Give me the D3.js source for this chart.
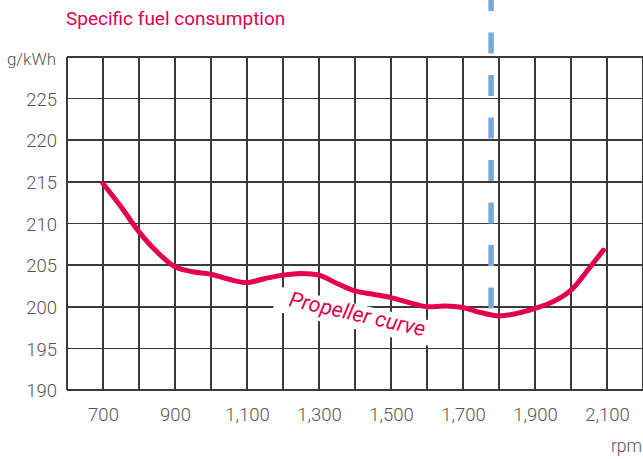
<!DOCTYPE html>
<html>
<head>
<meta charset="utf-8">
<script src="https://cdn.jsdelivr.net/npm/d3@7"></script>
<style>
  html, body { margin: 0; padding: 0; background: #fff; }
  svg { display: block; }
</style>
</head>
<body>
<svg id="chart" width="643" height="459"></svg>
<script>
// ---- data ----
const title = "Specific fuel consumption";
const yUnit = "g/kWh";
const xUnit = "rpm";
const curveLabel = "Propeller curve";

const rpmGrid = [600,700,800,900,1000,1100,1200,1300,1400,1500,1600,1700,1800,1900,2000,2100,2200];
const rpmTickLabels = [700,900,1100,1300,1500,1700,1900,2100];
const sfcGrid = [190,195,200,205,210,215,220,225,230];
const sfcTickLabels = [190,195,200,205,210,215,220,225];

const rpm = [700,750,800,850,900,950,1000,1050,1100,1150,1200,1250,1300,1350,1400,1450,1500,1550,1600,1650,1700,1750,1800,1850,1900,1950,2000,2050,2090];
const sfc = [214.8,212.0,209.0,206.6,204.8,204.2,203.9,203.3,202.9,203.4,203.8,204.0,203.8,202.8,201.9,201.5,201.1,200.5,200.0,200.1,199.9,199.3,198.9,199.2,199.8,200.6,202.0,204.6,206.8];

const mcrRpm = 1778;      // dashed marker
const mcrSfcEnd = 199.8;  // dashed marker lower end

// ---- layout ----
const svg = d3.select("#chart");
const x = d3.scaleLinear().domain([600, 2200]).range([67, 643]);
const y = d3.scaleLinear().domain([190, 230]).range([390, 57]);

const red = "#e3004f";
const gridCol = "#3a3a3a";
const txtCol = "#555";
const fontTick = "Roboto, 'Liberation Sans', sans-serif";

// title
svg.append("text")
  .attr("x", 66).attr("y", 25)
  .attr("fill", red)
  .attr("font-family", fontTick)
  .attr("font-size", 19)
  .text(title);

// grid
const grid = svg.append("g").attr("stroke", gridCol).attr("stroke-width", 1.6).attr("shape-rendering", "crispEdges");
grid.selectAll("line.v").data(rpmGrid).join("line")
  .attr("class", "v")
  .attr("x1", d => x(d)).attr("x2", d => x(d))
  .attr("y1", y(230)).attr("y2", y(190));
grid.selectAll("line.h").data(sfcGrid).join("line")
  .attr("class", "h")
  .attr("x1", x(600)).attr("x2", x(2200))
  .attr("y1", d => y(d)).attr("y2", d => y(d));

// y axis labels
const yAxis = d3.axisLeft(y).tickValues(sfcTickLabels).tickSize(0).tickPadding(0);
const gy = svg.append("g").attr("transform", "translate(57,0)").call(yAxis);
gy.select(".domain").remove();
gy.selectAll("text")
  .attr("fill", txtCol)
  .attr("font-family", fontTick)
  .attr("font-weight", 300)
  .attr("font-size", 18.5)
  .attr("dy", "0.36em");

// x axis labels
const xAxis = d3.axisBottom(x).tickValues(rpmTickLabels).tickSize(0).tickPadding(0)
  .tickFormat(d3.format(","));
const gx = svg.append("g").attr("transform", "translate(0,408)").call(xAxis);
gx.select(".domain").remove();
gx.selectAll("text")
  .attr("fill", txtCol)
  .attr("font-family", fontTick)
  .attr("font-weight", 300)
  .attr("font-size", 18.5)
  .attr("dy", "0.71em");

// unit labels
svg.append("text")
  .attr("x", 56).attr("y", 65)
  .attr("text-anchor", "end")
  .attr("fill", txtCol)
  .attr("font-family", fontTick)
  .attr("font-weight", 300)
  .attr("font-size", 17)
  .text(yUnit);
svg.append("text")
  .attr("x", 642).attr("y", 452)
  .attr("text-anchor", "end")
  .attr("fill", txtCol)
  .attr("font-family", fontTick)
  .attr("font-weight", 300)
  .attr("font-size", 17.5)
  .text(xUnit);

// curve label with white knock-out
const lab = svg.append("g")
  .attr("transform", `translate(${x(1214)},${y(200.1)}) rotate(12.7)`);
lab.append("rect")
  .attr("x", -14).attr("y", -17)
  .attr("width", 168).attr("height", 25)
  .attr("fill", "#fff");
lab.append("text")
  .attr("x", 0).attr("y", 0)
  .attr("fill", red)
  .attr("font-family", fontTick)
  .attr("font-style", "italic")
  .attr("font-size", 21.5)
  .text(curveLabel);

// dashed marker
svg.append("line")
  .attr("x1", x(mcrRpm)).attr("x2", x(mcrRpm))
  .attr("y1", y(mcrSfcEnd)).attr("y2", 0)
  .attr("stroke", "#7aaadc")
  .attr("stroke-width", 5.5)
  .attr("stroke-dasharray", "21 21.5");

// curve
const line = d3.line()
  .x((d, i) => x(rpm[i]))
  .y((d, i) => y(sfc[i]))
  .curve(d3.curveCatmullRom.alpha(0.5));
svg.append("path")
  .datum(rpm)
  .attr("d", line)
  .attr("fill", "none")
  .attr("stroke", red)
  .attr("stroke-width", 5)
  .attr("stroke-linecap", "round")
  .attr("stroke-linejoin", "round");
</script>
</body>
</html>
